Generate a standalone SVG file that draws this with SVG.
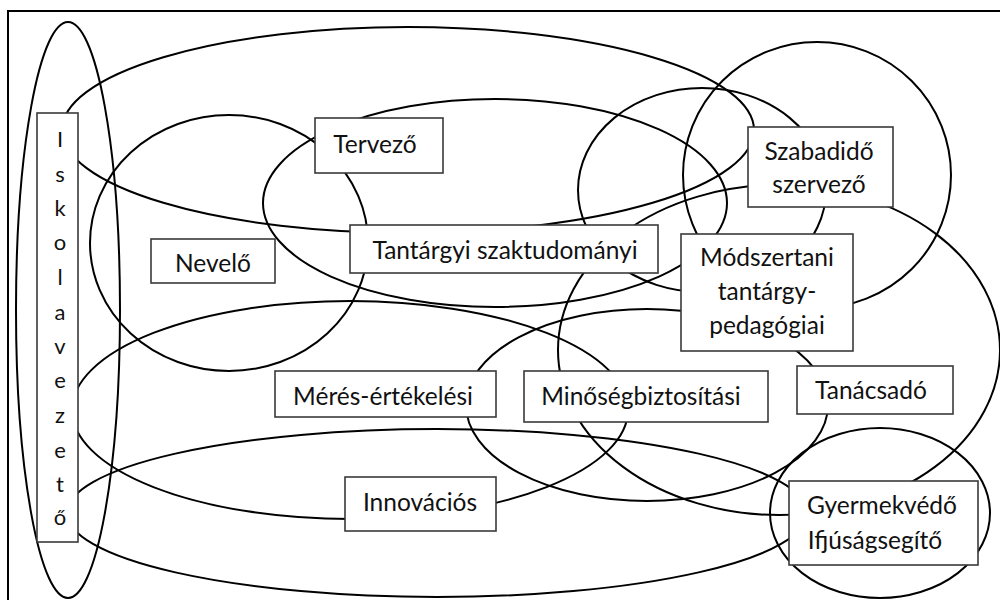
<svg xmlns="http://www.w3.org/2000/svg" width="1000" height="600" viewBox="0 0 1000 600">
  <style>
    .set { fill: none; stroke: #000; stroke-width: 2; }
    .box { fill: #fff; stroke: #3a3a3a; stroke-width: 1.6; }
    .lbl { font-family: Lato, "Open Sans", "Liberation Sans", sans-serif; font-size: 24.5px; fill: #111; text-anchor: middle; }
    .ltr { font-size: 22px; }
    .frame { fill: none; stroke: #000; stroke-width: 2; }
  </style>

  <rect width="1000" height="600" fill="#fff"/>
  <!-- outer frame (right and bottom edges run off the page) -->
  <rect class="frame" x="8" y="11" width="1000" height="600"/>

  <!-- overlapping role sets -->
  <g id="connectors">
    <ellipse class="set" cx="68" cy="310" rx="52" ry="288"/>
    <ellipse class="set" cx="408" cy="130" rx="346" ry="103"/>
    <ellipse class="set" cx="229" cy="243" rx="139" ry="128"/>
    <ellipse class="set" cx="495" cy="203" rx="232" ry="104"/>
    <ellipse class="set" cx="702" cy="190" rx="124" ry="102"/>
    <ellipse class="set" cx="817" cy="175" rx="134" ry="133"/>
    <ellipse class="set" cx="350" cy="410" rx="278" ry="109"/>
    <ellipse class="set" cx="437" cy="513" rx="370" ry="84"/>
    <ellipse class="set" cx="647" cy="405" rx="181" ry="96"/>
    <ellipse class="set" cx="779" cy="350" rx="221" ry="165"/>
    <ellipse class="set" cx="880" cy="513" rx="110" ry="85"/>
  </g>

  <g id="iskolavezeto">
    <rect class="box" x="37" y="113" width="41" height="429"/>
    <text class="lbl ltr" x="60" y="147">I</text>
    <text class="lbl ltr" x="60" y="182">s</text>
    <text class="lbl ltr" x="60" y="216">k</text>
    <text class="lbl ltr" x="60" y="250">o</text>
    <text class="lbl ltr" x="60" y="285">l</text>
    <text class="lbl ltr" x="60" y="320">a</text>
    <text class="lbl ltr" x="60" y="354">v</text>
    <text class="lbl ltr" x="60" y="388">e</text>
    <text class="lbl ltr" x="60" y="423">z</text>
    <text class="lbl ltr" x="60" y="458">e</text>
    <text class="lbl ltr" x="60" y="492">t</text>
    <text class="lbl ltr" x="60" y="525">ő</text>
  </g>

  <g id="tervezo">
    <rect class="box" x="315" y="118" width="128" height="55"/>
    <text class="lbl" x="375" y="153">Tervező</text>
  </g>

  <g id="nevelo">
    <rect class="box" x="151" y="239" width="124" height="44"/>
    <text class="lbl" x="213" y="272">Nevelő</text>
  </g>

  <g id="tantargyi">
    <rect class="box" x="350" y="225" width="308" height="48"/>
    <text class="lbl" x="505" y="259">Tantárgyi szaktudományi</text>
  </g>

  <g id="szabadido">
    <rect class="box" x="748" y="127" width="145" height="80"/>
    <text class="lbl" x="819" y="160">Szabadidő</text>
    <text class="lbl" x="819" y="193">szervező</text>
  </g>

  <g id="modszertani">
    <rect class="box" x="681" y="234" width="172" height="117"/>
    <text class="lbl" x="767" y="266">Módszertani</text>
    <text class="lbl" x="767" y="300">tantárgy-</text>
    <text class="lbl" x="767" y="334">pedagógiai</text>
  </g>

  <g id="meres">
    <rect class="box" x="275" y="371" width="221" height="46"/>
    <text class="lbl" x="383" y="405">Mérés-értékelési</text>
  </g>

  <g id="minoseg">
    <rect class="box" x="524" y="371" width="244" height="51"/>
    <text class="lbl" x="641" y="405">Minőségbiztosítási</text>
  </g>

  <g id="tanacsado">
    <rect class="box" x="797" y="366" width="156" height="48"/>
    <text class="lbl" x="871" y="399">Tanácsadó</text>
  </g>

  <g id="innovacios">
    <rect class="box" x="345" y="477" width="151" height="54"/>
    <text class="lbl" x="420" y="511">Innovációs</text>
  </g>

  <g id="gyermekvedo">
    <rect class="box" x="789" y="481" width="189" height="84"/>
    <text class="lbl" x="882" y="514">Gyermekvédő</text>
    <text class="lbl" x="875" y="549">Ifjúságsegítő</text>
  </g>
</svg>
